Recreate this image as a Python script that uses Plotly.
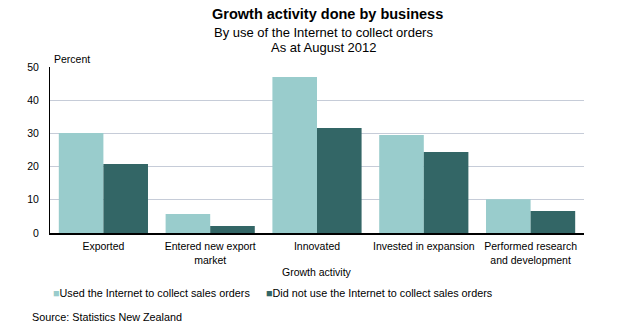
import plotly.graph_objects as go

categories = ["Exported", "Entered new export<br>market", "Innovated",
              "Invested in expansion", "Performed research<br>and development"]
used_internet = [30.1, 5.7, 47.0, 29.5, 10.2]
not_used_internet = [20.8, 2.1, 31.6, 24.4, 6.6]
series_names = ["Used the Internet to collect sales orders",
                "Did not use the Internet to collect sales orders"]
colors = ["#99CCCC", "#336666"]
y_ticks = [0, 10, 20, 30, 40, 50]

FONT = "Liberation Sans, Arial, sans-serif"
SMALL = 10.5

fig = go.Figure()
fig.add_trace(go.Bar(x=categories, y=used_internet, name=series_names[0],
                     marker=dict(color=colors[0], line=dict(width=0))))
fig.add_trace(go.Bar(x=categories, y=not_used_internet, name=series_names[1],
                     marker=dict(color=colors[1], line=dict(width=0))))

ann = []
def add(text, x, y, size=SMALL, xanchor="center", bold=False):
    ann.append(dict(text=f"<b>{text}</b>" if bold else text, x=x, y=y,
                    xref="paper", yref="paper", showarrow=False,
                    xanchor=xanchor, yanchor="middle",
                    font=dict(family=FONT, size=size, color="black")))

add("Growth activity done by business", 0.519, 1.318, size=14.5, bold=True)
add("By use of the Internet to collect orders", 0.513, 1.205, size=13)
add("As at August 2012", 0.513, 1.118, size=13)
add("Percent", 0.003, 1.048, xanchor="left")
add("Growth activity", 0.50, -0.235)
add(f"<span style='color:{colors[0]}'>■</span>{series_names[0]}", 0.002, -0.361, size=10.8, xanchor="left")
add(f"<span style='color:{colors[1]}'>■</span>{series_names[1]}", 0.401, -0.361, size=10.8, xanchor="left")
add("Source: Statistics New Zealand", -0.038, -0.506, size=10.8, xanchor="left")

fig.update_layout(
    width=631, height=330,
    margin=dict(l=50, r=47, t=67, b=97, pad=0),
    paper_bgcolor="white", plot_bgcolor="white",
    barmode="group", bargap=0.165, bargroupgap=0,
    showlegend=False,
    font=dict(family=FONT, size=SMALL, color="black"),
    annotations=ann,
)
fig.update_xaxes(showline=True, linecolor="black", linewidth=1.5,
                 ticks="", showgrid=False, tickfont=dict(size=SMALL),
                 ticklabelstandoff=3, range=[-0.5, 4.5])
fig.update_yaxes(range=[0, 50], tickvals=y_ticks, showline=True, linecolor="black",
                 linewidth=1, showgrid=True, gridcolor="#C6CCD8", gridwidth=1,
                 ticks="outside", ticklen=8, tickcolor="rgba(0,0,0,0)",
                 tickfont=dict(size=SMALL), zeroline=False)

fig.write_html("out.html")
